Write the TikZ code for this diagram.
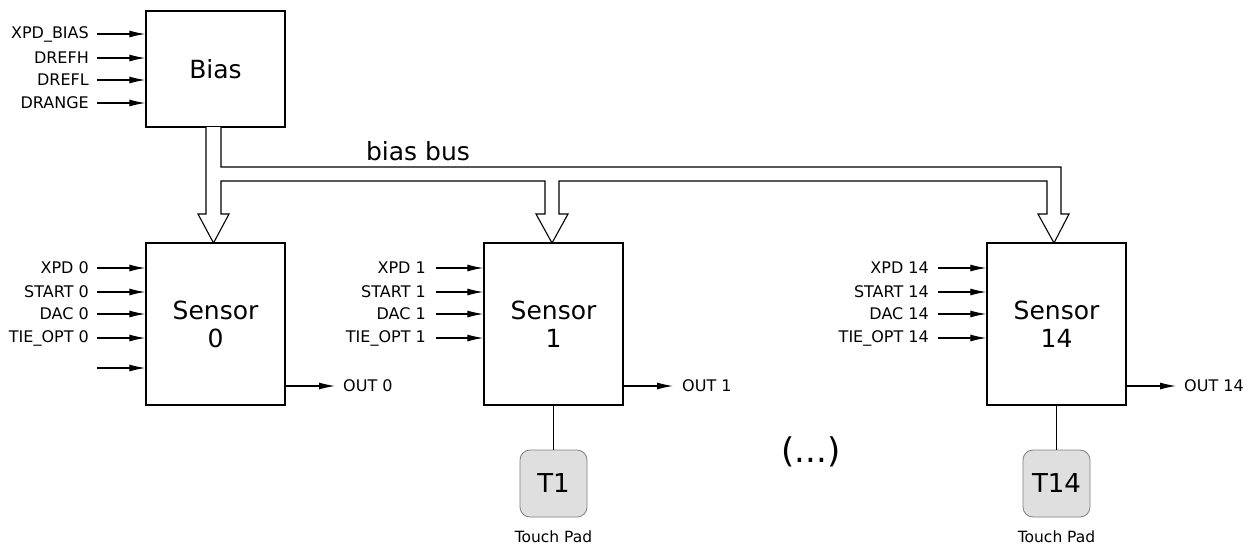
\documentclass[tikz,border=0pt]{standalone}
\usepackage{fontspec}
\setmainfont{DejaVu Sans}
\usetikzlibrary{arrows.meta,calc}
\tikzset{
  blk/.style={draw=black,line width=1.4pt,minimum width=139pt,minimum height=162pt,inner sep=0pt,align=center,font=\fontsize{25}{28}\selectfont},
  lbl/.style={inner sep=0pt,font=\fontsize{16}{18}\selectfont},
  sig/.style={line width=1.1pt,-{Latex[length=16pt,width=7pt]}},
  bus/.style={line width=1.1pt,fill=white,line join=miter},
  pad/.style={draw=gray,line width=0.8pt,fill=gray!25,rounded corners=10pt,minimum width=67pt,minimum height=67pt,inner sep=0pt,font=\fontsize{26}{30}\selectfont},
}
\begin{document}
\begin{tikzpicture}[x=1pt,y=-1pt]
\useasboundingbox (0,0) rectangle (1253,547);
% Bias block
\node[blk,minimum height=116pt] (bias) at (215.5,69) {Bias};
% Sensors
\node[blk] (s0) at (215.5,324) {Sensor\\0};
\node[blk] (s1) at (553.5,324) {Sensor\\1};
\node[blk] (s14) at (1056.5,324) {Sensor\\14};
% Bias inputs
\foreach \y/\t/\n in {34/XPD\_BIAS/a,58/DREFH/b,80/DREFL/c,103/DRANGE/d}{
  \node[lbl,anchor=east] (bl\n) at (89,\y) {\t};
  \coordinate (bc\n) at (97,\y);
  \draw[sig] (bc\n) -- (bc\n -| bias.west);
}
% Sensor 0 inputs
\foreach \y/\t/\n in {268/XPD 0/a,292/START 0/b,314/DAC 0/c,338/TIE\_OPT 0/d}{
  \node[lbl,anchor=east] (l0\n) at (89,\y) {\t};
  \coordinate (c0\n) at (97,\y);
  \draw[sig] (c0\n) -- (c0\n -| s0.west);
}
\coordinate (c0e) at (97,368);
\draw[sig] (c0e) -- (c0e -| s0.west);
% Sensor 1 inputs
\foreach \y/\t/\n in {268/XPD 1/a,292/START 1/b,314/DAC 1/c,338/TIE\_OPT 1/d}{
  \node[lbl,anchor=east] (l1\n) at (426,\y) {\t};
  \coordinate (c1\n) at (436,\y);
  \draw[sig] (c1\n) -- (c1\n -| s1.west);
}
% Sensor 14 inputs
\foreach \y/\t/\n in {268/XPD 14/a,292/START 14/b,314/DAC 14/c,338/TIE\_OPT 14/d}{
  \node[lbl,anchor=east] (l14\n) at (929,\y) {\t};
  \coordinate (c14\n) at (938,\y);
  \draw[sig] (c14\n) -- (c14\n -| s14.west);
}
% Outputs
\node[lbl,anchor=west] (o0) at (343,386) {OUT 0};
\node[lbl,anchor=west] (o1) at (682,386) {OUT 1};
\node[lbl,anchor=west] (o14) at (1184,386) {OUT 14};
\draw[sig] (s0.east |- o0) -- ($(o0.west)+(-8,0)$);
\draw[sig] (s1.east |- o1) -- ($(o1.west)+(-9,0)$);
\draw[sig] (s14.east |- o14) -- ($(o14.west)+(-8,0)$);
% Bias bus
\draw[bus] (206,127) -- (206,214) -- (198,214) -- (213.5,243) -- (229,214) -- (221,214)
  -- (221,181) -- (545,181) -- (545,214) -- (536,214) -- (552,243) -- (568,214) -- (559,214)
  -- (559,181) -- (1047,181) -- (1047,214) -- (1038,214) -- (1054,243) -- (1069,214) -- (1061,214)
  -- (1061,167) -- (221,167) -- (221,127);
\node[inner sep=0pt,font=\fontsize{25}{28}\selectfont] (busl) at (418,151) {bias bus};
% Touch pads
\node[pad] (t1) at (553.5,483.5) {T1};
\node[pad] (t14) at (1056.5,483.5) {T14};
\draw[line width=0.9pt] (s1.south) -- (t1.north);
\draw[line width=0.9pt] (s14.south) -- (t14.north);
\node[inner sep=0pt,font=\fontsize{15.5}{18}\selectfont] (tp1) at (553.5,537) {Touch Pad};
\node[inner sep=0pt,font=\fontsize{15.5}{18}\selectfont] (tp14) at (1056.5,537) {Touch Pad};
% ellipsis
\node[inner sep=0pt,font=\fontsize{34}{38}\selectfont] (dots) at (811,452) {(...)};
\end{tikzpicture}
\end{document}
